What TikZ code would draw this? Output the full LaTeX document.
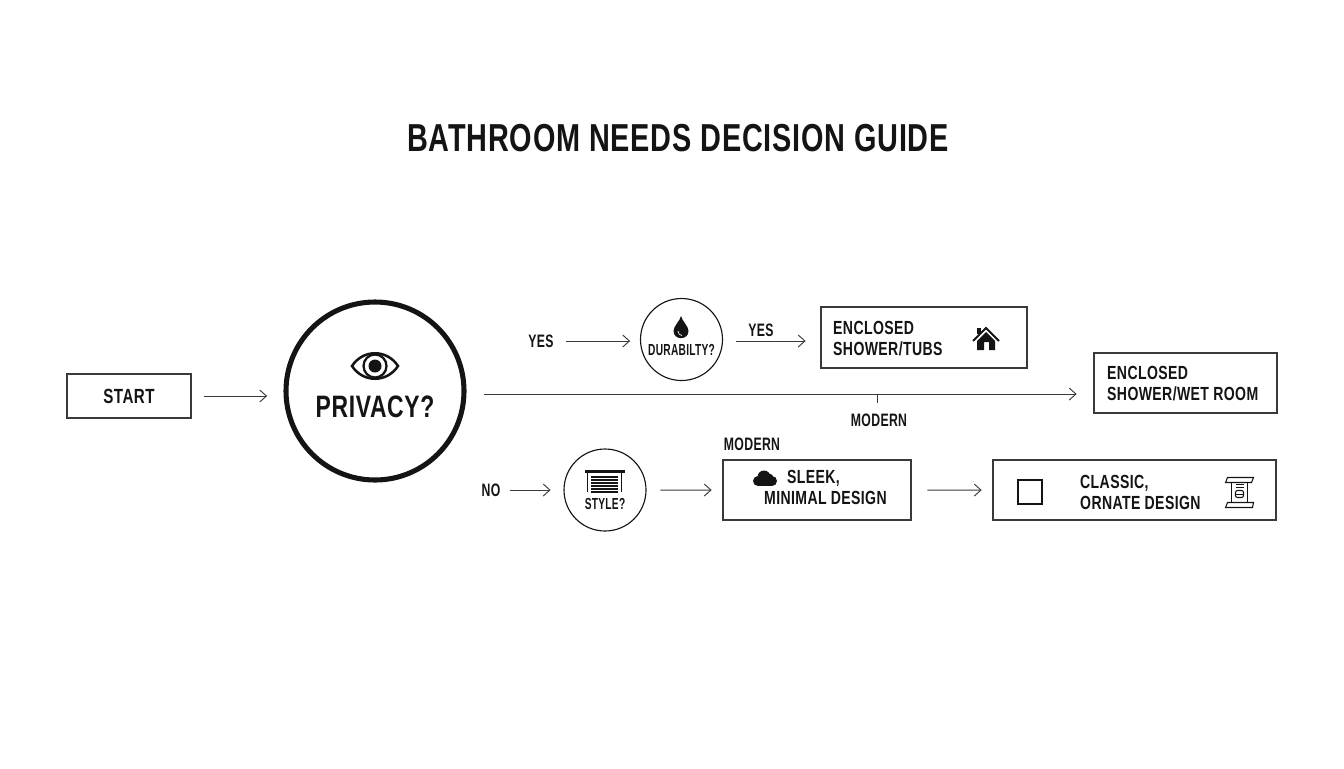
\documentclass[tikz,border=0pt]{standalone}
\usepackage{fontspec}
\setmainfont[FakeStretch=0.74,LetterSpace=2]{Liberation Sans}
\usetikzlibrary{arrows.meta}
\definecolor{ink}{HTML}{141414}
\definecolor{wire}{HTML}{3A3A3A}

\tikzset{
  eyeicon/.pic={
    \draw[ink,line width=1.9pt,fill=white] (-23,0) .. controls (-12,-17) and (12,-17) .. (23,0)
       .. controls (12,17) and (-12,17) .. (-23,0) -- cycle;
    \draw[ink,line width=1.7pt] (0,0) circle (11.5);
    \fill[ink] (0,0) circle (6.5);
  },
  dropicon/.pic={
    \fill[ink] (0,-11) .. controls (1,-6) and (7.5,-1) .. (7.5,4)
       .. controls (7.5,13.5) and (-7.5,13.5) .. (-7.5,4) .. controls (-7.5,-1) and (-1,-6) .. (0,-11) -- cycle;
    \draw[white,line width=.5pt] (-3,4) .. controls (-3,7) and (-1,8) .. (1,8.5);
  },
  houseicon/.pic={
    \fill[ink] (-9,3) -- (0,-6) -- (9,3) -- (9,12) -- (3,12) -- (3,4) -- (-2,4) -- (-2,12) -- (-9,12) -- cycle;
    \draw[ink,line width=1.5pt] (-13,3) -- (0,-10) -- (13,3);
    \fill[ink] (-9,-10) rectangle (-5,-4);
  },
  blindicon/.pic={
    \fill[ink] (-20,-10) rectangle (20,-7);
    \draw[ink,line width=1pt] (-17,-7) -- (-17,12) (17,-7) -- (17,12);
    \foreach \ypos in {-3,0,3,6,9,12}
      \draw[ink,line width=.85pt] (-13.5,\ypos) -- (13.5,\ypos);
  },
  cloudicon/.pic={
    \fill[ink] (-7,3) circle (5) (7,3) circle (5) (-1,-1) circle (6.5) (4,0) circle (4.5);
    \fill[ink] (-7,1) rectangle (7,8);
  },
  scrollicon/.pic={
    \draw[ink,line width=.8pt] (-12,-15) -- (14,-15) -- (12,-10) -- (-14,-10) -- cycle;
    \draw[ink,line width=.8pt] (-12,10) -- (14,10) -- (13,15) -- (-14,15) -- cycle;
    \draw[ink,line width=.8pt] (-8,-10) -- (-8,10) (8,-10) -- (8,10);
    \draw[ink,line width=.8pt] (-4,-8) -- (4,-8) (-4,-5) -- (4,-5);
    \draw[ink,line width=.8pt,rounded corners=1.5pt] (-4,-2) rectangle (4,5);
    \draw[ink,line width=.5pt] (-4,1.5) -- (4,1.5);
  }
}

\begin{document}
\begin{tikzpicture}[x=1pt,y=-1pt,scale=.75,transform shape,
    >={Straight Barb[length=5pt,width=9pt,line width=.7pt]},
    every node/.style={text=ink,font=\bfseries},
    flow/.style={->,wire,line width=.75pt},
    bluntline/.style={wire,line width=.75pt},
    block/.style={draw=wire,line width=.85pt,rectangle,inner sep=0pt},
    ask/.style={draw=ink,line width=.85pt,circle,inner sep=0pt,minimum size=82},
    bigask/.style={draw=ink,line width=3.8pt,circle,inner sep=0pt,minimum size=178},
    word/.style={font=\fontsize{18}{18}\selectfont\bfseries,inner sep=0pt,xscale=.92},
    small/.style={font=\fontsize{16}{16}\selectfont\bfseries,inner sep=0pt,xscale=.86},
    blocktext/.style={font=\fontsize{19}{21}\selectfont\bfseries,inner sep=0pt,align=left,anchor=west}]

  \useasboundingbox (0,0) rectangle (1344,768);

  \node[font=\fontsize{39}{39}\selectfont\bfseries] (title) at (678,138) {BATHROOM NEEDS DECISION GUIDE};

  % left side
  \node[block,minimum width=124,minimum height=44] (start) at (129,396)
       {\fontsize{20.5}{20.5}\selectfont START};
  \node[bigask] (privacy) at (375,391) {};
  \node[font=\fontsize{31}{31}\selectfont\bfseries,inner sep=0pt] (privacytext) at (375,407) {PRIVACY?};

  % upper branch
  \node[word] (yesa) at (541,341) {YES};
  \node[ask] (durability) at (681.5,339.5) {};
  \node[small] (durabilitytext) at (681.5,350) {DURABILTY?};
  \node[word] (yesb) at (761,330) {YES};
  \node[block,minimum width=206,minimum height=61] (shower) at (924,337.5) {};
  \node[blocktext] (showertext) at (833,338.5) {ENCLOSED\\SHOWER/TUBS};
  \coordinate (yesbout) at (736,341);

  % straight on
  \node[block,minimum width=183,minimum height=60] (wetroom) at (1185.5,383) {};
  \node[blocktext] (wetroomtext) at (1107,383.5) {ENCLOSED\\SHOWER/WET ROOM};
  \coordinate (tap) at (877,394);
  \node[word] (modernb) at (879,420) {MODERN};

  % lower branch
  \node[word] (no) at (491,490) {NO};
  \node[ask] (style) at (605,490) {};
  \node[small] (styletext) [below of=style,node distance=14] {STYLE?};
  \node[word] (moderna) at (752,444) {MODERN};
  \node[block,minimum width=188,minimum height=60] (sleek) [right of=style,node distance=212] {};
  \node[blocktext] (sleektext) at (787,478) {SLEEK,};
  \node[blocktext] (minimaltext) at (764,498) {MINIMAL DESIGN};
  \node[block,minimum width=283,minimum height=60] (classic) [right of=sleek,node distance=317.5] {};
  \node[blocktext] (classictext) at (1080,492) {CLASSIC,\\ORNATE DESIGN};
  \node[block,draw=ink,minimum size=24] (tickbox) at (1030,492) {};

  \pic at (375,366) {eyeicon};
  \pic at (681,327) {dropicon};
  \pic at (986,338) {houseicon};
  \pic at (604.5,480) {blindicon};
  \pic at (765,478) {cloudicon};
  \pic at (1239.5,492.5) {scrollicon};

  \draw[flow,shorten <=9.75pt,shorten >=12.75pt] (start.east) -- (start.east -| privacy.west);
  \draw[flow,shorten <=13.5pt,shorten >=12.75pt] (privacy.east |- tap) -- (wetroom.west |- tap);
  \draw[bluntline,shorten >=7.5pt] (tap) -- (tap |- modernb.north);
  \draw[flow,shorten <=9pt,shorten >=7.5pt] (yesa.east) -- (durability.west |- yesa);
  \draw[flow,shorten >=11.25pt] (yesbout) -- (yesbout -| shower.west);
  \draw[flow,shorten <=6.75pt,shorten >=9.75pt] (no.east) -- (style.west);
  \draw[flow,shorten <=10.5pt,shorten >=8.25pt] (style.east) -- (sleek.west);
  \draw[flow,shorten <=12pt,shorten >=8.25pt] (sleek.east) -- (classic.west);

\end{tikzpicture}
\end{document}
